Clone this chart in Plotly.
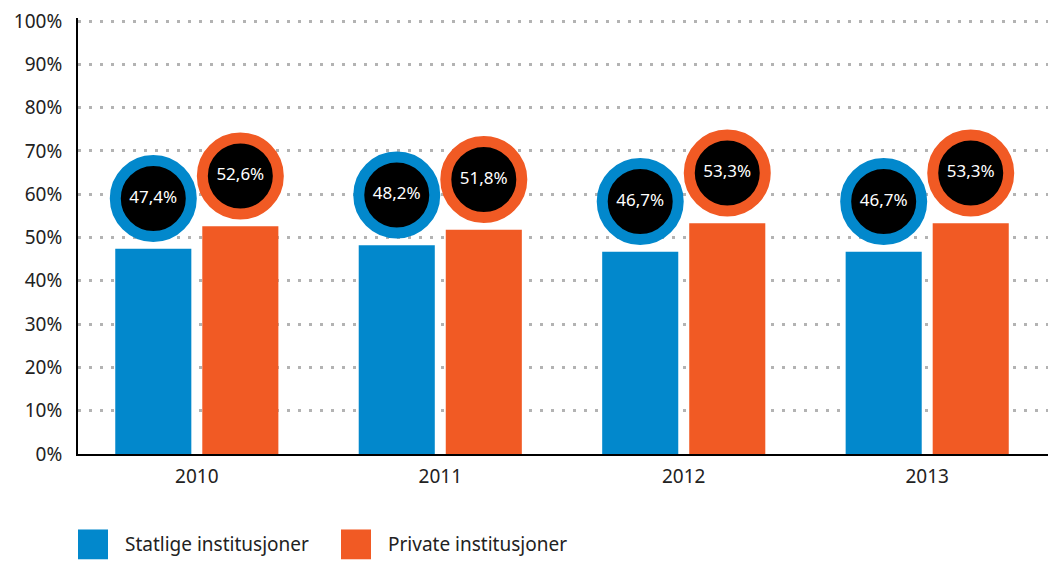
import plotly.graph_objects as go

years = ["2010", "2011", "2012", "2013"]
statlige = [47.4, 48.2, 46.7, 46.7]
private = [52.6, 51.8, 53.3, 53.3]
series_names = ["Statlige institusjoner", "Private institusjoner"]

BLUE = "#0288CC"
ORANGE = "#F15A24"
FONT = "Noto Sans"
BUBBLE_OFFSET = 11.6  # circles float above the bar tops


def fmt(v):
    return f"{v:.1f}".replace(".", ",") + "%"


fig = go.Figure()

for name, vals, col, grp in [(series_names[0], statlige, BLUE, "a"),
                             (series_names[1], private, ORANGE, "b")]:
    fig.add_trace(go.Bar(
        x=years, y=vals, name=name, marker=dict(color=col, line_width=0),
        offsetgroup=grp, showlegend=False, hoverinfo="skip"
    ))
    fig.add_trace(go.Scatter(
        x=years, y=[v + BUBBLE_OFFSET for v in vals],
        mode="markers+text", text=[fmt(v) for v in vals],
        textposition="middle center",
        textfont=dict(family=FONT, size=17, color="white"),
        marker=dict(size=76, color="black", line=dict(color=col, width=11)),
        offsetgroup=grp, showlegend=False, cliponaxis=False,
        hovertemplate="%{x}: %{text}<extra></extra>"
    ))

# legend drawn by hand to get the large swatches
# (page body has an 8px margin, so the figure is 8px smaller each way)
shapes = []
annotations = []
plot_w = 1048 - 70
plot_h = 446 - 7
legend_x = [0, 263]
for i, (name, col) in enumerate(zip(series_names, [BLUE, ORANGE])):
    x0 = legend_x[i] / plot_w
    shapes.append(dict(type="rect", xref="paper", yref="paper",
                       x0=x0, x1=x0 + 30 / plot_w,
                       y0=-106 / plot_h, y1=-76 / plot_h,
                       fillcolor=col, line_width=0))
    annotations.append(dict(xref="paper", yref="paper",
                            x=x0 + 45 / plot_w, y=-91 / plot_h,
                            xanchor="left", yanchor="middle", text=name,
                            showarrow=False,
                            font=dict(family=FONT, size=19, color="#222")))

fig.update_layout(
    width=1048, height=554,
    margin=dict(l=70, r=0, t=7, b=108),
    paper_bgcolor="white", plot_bgcolor="white",
    barmode="group", scattermode="group",
    bargap=0.285, bargroupgap=0.126,
    font=dict(family=FONT, size=19, color="#222"),
    shapes=shapes, annotations=annotations,
    showlegend=False,
)
fig.update_yaxes(
    range=[0, 100.7], dtick=10, ticksuffix="%",
    showgrid=True, gridcolor="#b3b3b3", gridwidth=3, griddash="3px,8px",
    showline=True, linecolor="black", linewidth=2,
    ticks="", ticklabelstandoff=10, zeroline=False,
    ticklabeloverflow="allow",
    tickfont=dict(family=FONT, size=19, color="#222"),
)
fig.update_xaxes(
    range=[-0.488, 3.529],
    showline=True, linecolor="black", linewidth=2,
    ticks="", ticklabelstandoff=4, showgrid=False,
    tickfont=dict(family=FONT, size=19, color="#222"),
)

fig.write_html("out.html")
